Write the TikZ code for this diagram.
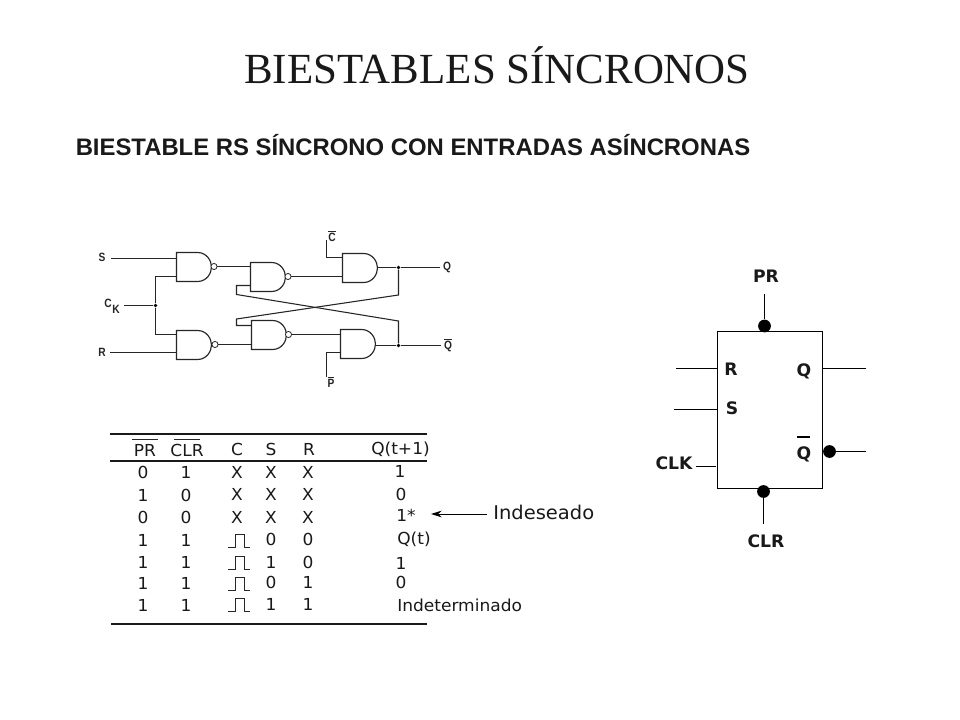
\documentclass[tikz,border=0pt]{standalone}
\usepackage{fontspec}
\setmainfont{Liberation Serif}
\newfontfamily\tah[FakeStretch=1.03]{DejaVu Sans}
\newfontfamily\arialb{Liberation Sans}
\newfontfamily\vb{DejaVu Sans}
\newfontfamily\cond[FakeStretch=0.85]{Liberation Sans}
\usetikzlibrary{arrows.meta}
\tikzset{
  wire/.style={line width=0.8pt,color=black!85},
  thin wire/.style={line width=0.75pt,color=black},
  gatebody/.style={line width=0.85pt,color=black!85},
  bub/.style={circle,draw=black!85,fill=white,line width=0.6pt,inner sep=0pt,minimum size=4.6pt},
  jdot/.style={circle,fill=black,inner sep=0pt,minimum size=2.8pt},
  bdot/.style={circle,fill=black,inner sep=0pt,minimum size=9.6pt},
  cell/.style={inner sep=0pt,font=\tah\fontsize{12.4}{14}\selectfont,color=black!90},
  schem/.style={inner sep=0pt,font=\cond\bfseries\fontsize{9}{10}\selectfont,color=black!85},
  blk/.style={inner sep=0pt,font=\vb\bfseries\fontsize{12.9}{14}\selectfont,color=black!90},
  andgate/.pic={
    \draw[gatebody] (0,0) -- (21,0) .. controls (30,0) and (35,8) .. (35,14.5)
      .. controls (35,21) and (30,29) .. (21,29) -- (0,29) -- cycle;
  },
  pulse/.pic={
    \draw[line width=0.7pt,black!85] (0,0) -- (7,0) -- (7,-13) -- (16,-13) -- (16,0) -- (22,0);
  }
}
\begin{document}
\begin{tikzpicture}[x=0.75pt,y=-0.75pt]
\useasboundingbox (0,0) rectangle (960,720);
\fill[white] (0,0) rectangle (960,720);
% titles
\node[inner sep=0pt,font=\fontsize{32.2}{38}\selectfont,color=black!90] (title) at (497,65) {BIESTABLES SÍNCRONOS};
\node[inner sep=0pt,font=\arialb\bfseries\fontsize{17.9}{20}\selectfont,color=black!90] (sub) at (413,145.5) {BIESTABLE RS SÍNCRONO CON ENTRADAS ASÍNCRONAS};
% gates
\pic at (176.5,252.5) {andgate};
\pic at (176.5,330.5) {andgate};
\pic at (250.5,262.5) {andgate};
\pic at (251.5,320.5) {andgate};
\pic at (342.5,253.5) {andgate};
\pic at (340.5,329.5) {andgate};
\node[bub] (b1) at (214,266.5) {};
\node[bub] (b3) at (215,344.5) {};
\node[bub] (b2) at (288,276.5) {};
\node[bub] (b4) at (288.5,334.5) {};
\node[jdot] (jc) at (155.5,305.5) {};
\node[jdot] (jq) at (398.5,267.5) {};
\node[jdot] (jn) at (398.5,345.5) {};
% labels
\node[schem] (ls) at (102,257) {S};
\node[schem] (lr) at (102,352) {R};
\node[schem] (lc) at (108,303) {C};
\node[schem] (lk) at (116,309.5) {K};
\node[schem] (lq) at (447,267) {Q};
\node[schem] (lnq) at (448,345) {$\overline{\mbox{Q}}$};
\node[schem] (lcb) at (332,236) {$\overline{\mbox{C}}$};
\node[schem] (lpb) at (331,382) {$\overline{\mbox{P}}$};
% wire ends
\coordinate (sw) at (111,258.5); \coordinate (g1a) at (176.5,258.5);
\coordinate (rw) at (110,352.5); \coordinate (g3b) at (176.5,352.5);
\coordinate (cw) at (124,305.5);
\coordinate (g1b) at (176.5,276.5); \coordinate (g3a) at (176.5,334.5);
\coordinate (g2a) at (250.5,266.5); \coordinate (g2b) at (250.5,285.5);
\coordinate (g4a) at (251.5,325.5); \coordinate (g4b) at (251.5,344.5);
\coordinate (g5a) at (342.5,257.5); \coordinate (g5b) at (342.5,276.5);
\coordinate (g6a) at (340.5,334.5); \coordinate (g6b) at (340.5,352.5);
\coordinate (o5) at (377.5,267.5); \coordinate (o6) at (375.5,345.5);
\coordinate (qe) at (440,267.5); \coordinate (ne) at (441,345.5);
\coordinate (ct) at (326.5,240); \coordinate (pb) at (326.5,377);
% wires
\draw[wire] (sw) -- (g1a);
\draw[wire] (rw) -- (g3b);
\draw[wire] (cw) -- (jc);
\draw[wire] (g1b) -| (jc) |- (g3a);
\draw[wire] (b1) -- (g2a);
\draw[wire] (b3) -- (g4b);
\draw[wire] (b2) -- (g5b);
\draw[wire] (b4) -- (g6a);
\draw[wire] (ct) |- (g5a);
\draw[wire] (pb) |- (g6b);
\draw[wire] (o5) -- (jq) -- (qe);
\draw[wire] (o6) -- (jn) -- (ne);
\draw[wire] (g2b) -- (236.5,285.5) -- (236.5,294.5) -- (398.5,321) -- (jn);
\draw[wire] (g4a) -- (236.5,325.5) -- (236.5,319) -- (398.5,295) -- (jq);
% table
\draw[line width=1.5pt,black!90] (110,434) -- (427,434);
\draw[line width=0.8pt,black!90] (110,461) -- (427,461);
\draw[line width=1.5pt,black!90] (111,624) -- (427,624);
\draw[line width=0.9pt,black!85] (132,439.5) -- (158,439.5);
\draw[line width=0.9pt,black!85] (174,439.5) -- (200,439.5);
\node[cell] (hp) at (145,450) {PR};
\node[cell] (hc) at (187,450) {CLR};
\node[cell] (hC) at (237,449.5) {C};
\node[cell] (hS) at (271,449.5) {S};
\node[cell] (hR) at (309,449.5) {R};
\node[cell] (hQ) at (400.5,449.5) {Q(t+1)};
% col PR, CLR
\node[cell] (a1) at (143,472.5) {0}; \node[cell] (c1) at (186,472.5) {1};
\node[cell] (a2) at (143,495.5) {1}; \node[cell] (c2) at (186,495.5) {0};
\node[cell] (a3) at (143,517.5) {0}; \node[cell] (c3) at (186,517.5) {0};
\node[cell] (a4) at (143,540.5) {1}; \node[cell] (c4) at (186,540.5) {1};
\node[cell] (a5) at (143,562.5) {1}; \node[cell] (c5) at (186,562.5) {1};
\node[cell] (a6) at (143,583) {1}; \node[cell] (c6) at (186,583) {1};
\node[cell] (a7) at (143,605) {1}; \node[cell] (c7) at (186,605) {1};
% C S R
\node[cell] (d1) at (237,472) {X}; \node[cell] (e1) at (271,472) {X}; \node[cell] (f1) at (308,472) {X};
\node[cell] (d2) at (237,494) {X}; \node[cell] (e2) at (271,494) {X}; \node[cell] (f2) at (308,494) {X};
\node[cell] (d3) at (237,517) {X}; \node[cell] (e3) at (271,517) {X}; \node[cell] (f3) at (308,517) {X};
\pic at (228,547.5) {pulse};
\pic at (228,569.5) {pulse};
\pic at (228,590.5) {pulse};
\pic at (228,611.5) {pulse};
\node[cell] (e4) at (271,539.5) {0}; \node[cell] (f4) at (308,539.5) {0};
\node[cell] (e5) at (271,562) {1}; \node[cell] (f5) at (308,562) {0};
\node[cell] (e6) at (271,582) {0}; \node[cell] (f6) at (308,582) {1};
\node[cell] (e7) at (271,604) {1}; \node[cell] (f7) at (308,604) {1};
% Q(t+1)
\node[cell] (q1) at (400,471) {1};
\node[cell] (q2) at (401,494) {0};
\node[cell] (q3) at (406,515) {1*};
\node[cell] (q4) at (414,539) {Q(t)};
\node[cell] (q5) at (401,563) {1};
\node[cell] (q6) at (401,582) {0};
\node[cell,anchor=west] (q7) at (397,605) {Indeterminado};
% Indeseado
\node[inner sep=0pt,anchor=west,font=\tah\fontsize{14.2}{16}\selectfont,color=black!90] (ind) at (493,512) {Indeseado};
\coordinate (ia) at (487,514); \coordinate (ib) at (431,514);
\draw[-{Stealth[length=8pt,width=5pt]},line width=0.75pt] (ia) -- (ib);
% block
\node[draw=black,line width=0.75pt,inner sep=0pt,minimum width=78.75pt,minimum height=117.75pt] (ff) at (770,409.5) {};
\node[bdot] (dpr) at (764.5,326) {};
\node[bdot] (dclr) at (763.5,491.5) {};
\node[bdot] (dq) at (829.5,451.5) {};
\node[blk] (tpr) at (766,276.5) {PR};
\node[blk] (tclr) at (766,541) {CLR};
\node[blk] (tr) at (731,369) {R};
\node[blk] (ts) at (732,408) {S};
\node[blk] (tq) at (804,371) {Q};
\node[blk] (tnq) at (804,454) {Q};
\node[blk] (tclk) at (674,463.5) {CLK};
\draw[line width=1.5pt] (797,437) -- (810,437);
\coordinate (pt) at (764.5,294); \coordinate (ce) at (763.5,524);
\coordinate (re) at (676,368); \coordinate (ri) at (717.5,368);
\coordinate (se) at (674,409.5); \coordinate (si) at (717.5,409.5);
\coordinate (qi) at (822.5,368); \coordinate (qo) at (866,368);
\coordinate (ko) at (866,451.5);
\coordinate (ka) at (696,466); \coordinate (kb) at (716,466);
\draw[thin wire] (pt) -- (dpr);
\draw[thin wire] (dclr) -- (ce);
\draw[thin wire] (re) -- (ri);
\draw[thin wire] (se) -- (si);
\draw[thin wire] (qi) -- (qo);
\draw[thin wire] (dq) -- (ko);
\draw[thin wire] (ka) -- (kb);
\end{tikzpicture}
\end{document}
